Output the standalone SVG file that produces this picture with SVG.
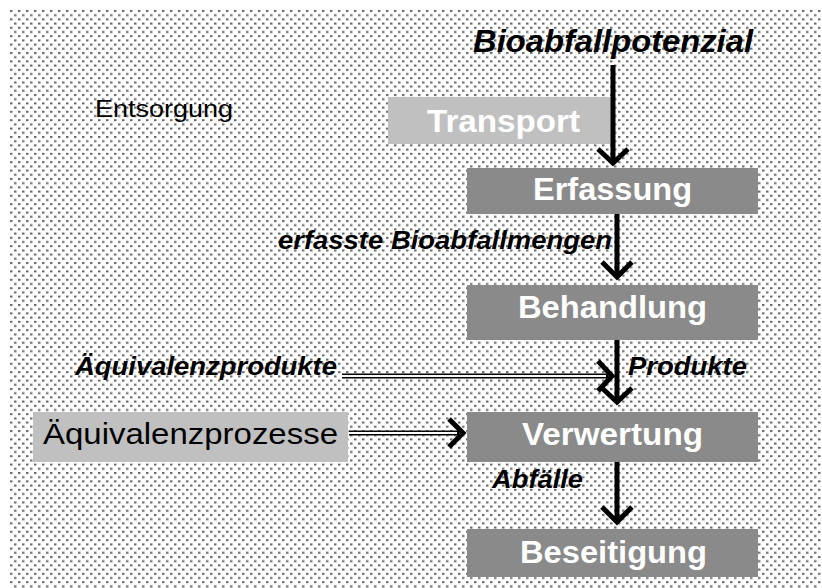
<svg xmlns="http://www.w3.org/2000/svg" width="822" height="588" viewBox="0 0 822 588">
  <defs>
    <pattern id="dots" x="10" y="10" width="8" height="8.4" patternUnits="userSpaceOnUse">
      <rect x="0" y="0" width="2.5" height="2" fill="#6a6a6a"/>
      <rect x="4" y="4.2" width="2.5" height="2" fill="#6a6a6a"/>
    </pattern>
  </defs>
  <style>
    .dark { fill: #8a8a8a; }
    .light { fill: #c0c0c0; }
    .boxlabel { font-family: "Liberation Sans", Arial, sans-serif; font-weight: bold; font-size: 31px; fill: #ffffff; text-anchor: middle; }
    .flow { font-family: "Liberation Sans", Arial, sans-serif; font-weight: bold; font-style: italic; font-size: 25px; fill: #000000; }
    .plain { font-family: "Liberation Sans", Arial, sans-serif; fill: #000000; }
    .arrow { stroke: #000000; stroke-width: 5; fill: none; }
    .dbl-outer { stroke: #000000; stroke-width: 5; fill: none; }
    .dbl-inner { stroke: #ffffff; stroke-width: 1.8; fill: none; }
  </style>
  <rect x="0" y="0" width="822" height="588" fill="#ffffff"/>
  <rect x="10" y="10" width="812" height="578" fill="url(#dots)"/>

  <g id="label-entsorgung">
    <text class="plain" x="95" y="117" font-size="24" textLength="138" lengthAdjust="spacingAndGlyphs">Entsorgung</text>
  </g>
  <g id="label-bioabfallpotenzial">
    <text class="flow" x="473" y="52" style="font-size:31px" textLength="280" lengthAdjust="spacingAndGlyphs">Bioabfallpotenzial</text>
  </g>

  <g id="node-transport">
    <rect class="light" x="388" y="97" width="223" height="47"/>
    <text class="boxlabel" x="503.5" y="132" textLength="153" lengthAdjust="spacingAndGlyphs">Transport</text>
  </g>
  <g id="node-erfassung">
    <rect class="dark" x="467" y="168" width="291" height="46"/>
    <text class="boxlabel" x="612.5" y="200" textLength="159" lengthAdjust="spacingAndGlyphs">Erfassung</text>
  </g>
  <g id="node-behandlung">
    <rect class="dark" x="467" y="285" width="291" height="55"/>
    <text class="boxlabel" x="612.5" y="318" textLength="189" lengthAdjust="spacingAndGlyphs">Behandlung</text>
  </g>
  <g id="node-verwertung">
    <rect class="dark" x="467" y="412" width="291" height="50"/>
    <text class="boxlabel" x="612.5" y="445" textLength="181" lengthAdjust="spacingAndGlyphs">Verwertung</text>
  </g>
  <g id="node-beseitigung">
    <rect class="dark" x="467" y="529" width="291" height="48"/>
    <text class="boxlabel" x="613.5" y="563" textLength="187" lengthAdjust="spacingAndGlyphs">Beseitigung</text>
  </g>
  <g id="node-aequivalenzprozesse">
    <rect class="light" x="33" y="412" width="315" height="50"/>
    <text class="plain" x="43" y="444" font-size="30" textLength="295" lengthAdjust="spacingAndGlyphs">Äquivalenzprozesse</text>
  </g>

  <g id="connectors">
    <line class="arrow" x1="613" y1="65" x2="613" y2="161"/>
    <polyline class="arrow" points="598,149 613,163 628,149"/>
    <line class="arrow" x1="617" y1="214" x2="617" y2="275"/>
    <polyline class="arrow" points="602,262 617,277 632,262"/>
    <line class="arrow" x1="617" y1="340" x2="617" y2="400"/>
    <polyline class="arrow" points="602,388 617,402 632,388"/>
    <line class="arrow" x1="617" y1="462" x2="617" y2="520"/>
    <polyline class="arrow" points="602,507 617,522 632,507"/>

    <line class="dbl-outer" x1="342" y1="376" x2="608" y2="376"/>
    <line class="dbl-inner" x1="342" y1="376" x2="606" y2="376"/>
    <polyline class="arrow" points="598,361 612,376 598,391"/>

    <line class="dbl-outer" x1="349" y1="433" x2="459" y2="433"/>
    <line class="dbl-inner" x1="349" y1="433" x2="457" y2="433"/>
    <polyline class="arrow" points="449,419 463,433 449,447"/>
  </g>

  <g id="connector-labels">
    <text class="flow" x="278" y="249" textLength="334" lengthAdjust="spacingAndGlyphs">erfasste Bioabfallmengen</text>
    <text class="flow" x="75" y="375" textLength="262" lengthAdjust="spacingAndGlyphs">Äquivalenzprodukte</text>
    <text class="flow" x="628" y="375" textLength="119" lengthAdjust="spacingAndGlyphs">Produkte</text>
    <text class="flow" x="492" y="488" textLength="91" lengthAdjust="spacingAndGlyphs">Abfälle</text>
  </g>
</svg>
